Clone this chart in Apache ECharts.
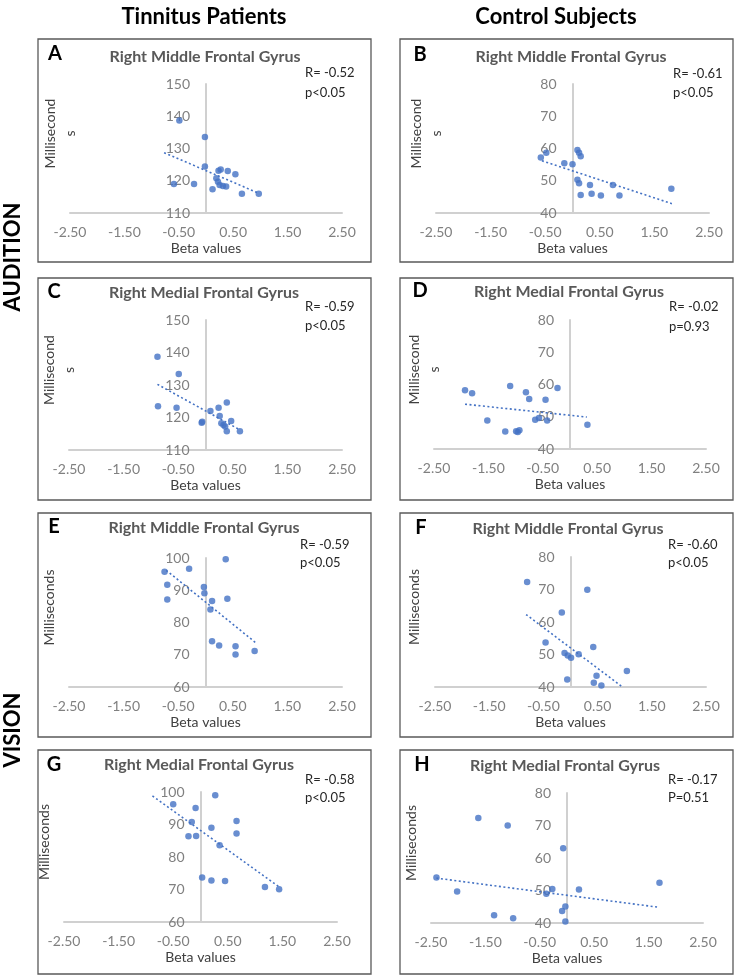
<!DOCTYPE html>
<html>
<head>
<meta charset="utf-8">
<script src="https://cdn.jsdelivr.net/npm/echarts@6/dist/echarts.min.js"></script>
<style>
html,body{margin:0;padding:0;background:#fff;}
#chart{width:738px;height:978px;}
</style>
</head>
<body>
<div id="chart"></div>
<script>
// ---------- data ----------
const columnHeaders = ['Tinnitus Patients', 'Control Subjects'];
const rowHeaders = ['AUDITION', 'VISION'];
const panelLetters = ['A', 'B', 'C', 'D', 'E', 'F', 'G', 'H'];
const regionTitles = ['Right Middle Frontal Gyrus', 'Right Middle Frontal Gyrus',
  'Right Medial Frontal Gyrus', 'Right Medial Frontal Gyrus',
  'Right Middle Frontal Gyrus', 'Right Middle Frontal Gyrus',
  'Right Medial Frontal Gyrus', 'Right Medial Frontal Gyrus'];
const rTexts = ['R= -0.52', 'R= -0.61', 'R= -0.59', 'R= -0.02', 'R= -0.59', 'R= -0.60', 'R= -0.58', 'R= -0.17'];
const pTexts = ['p<0.05', 'p<0.05', 'p<0.05', 'p=0.93', 'p<0.05', 'p<0.05', 'p<0.05', 'P=0.51'];
const xAxisName = 'Beta values';
const yAxisNames = ['Millisecond\ns', 'Millisecond\ns', 'Millisecond\ns', 'Millisecond\ns',
  'Milliseconds', 'Milliseconds', 'Milliseconds', 'Milliseconds'];
const xTickLabels = ['-2.50', '-1.50', '-0.50', '0.50', '1.50', '2.50'];
const yMins = [110, 40, 110, 40, 60, 40, 60, 40];
const yMaxs = [150, 80, 150, 80, 100, 80, 100, 80];

// Panel A
const betaA = [-0.49, -0.02, -0.02, -0.59, -0.22, 0.23, 0.27, 0.40, 0.54, 0.19, 0.22, 0.25, 0.31, 0.37, 0.12, 0.66, 0.97];
const msA = [138.7, 133.6, 124.4, 119.0, 119.0, 123.1, 123.5, 123.0, 122.0, 120.8, 119.7, 118.7, 118.4, 118.2, 117.4, 116.0, 116.0];
const trendBetaA = [-0.77, 0.96];
const trendMsA = [128.7, 116.2];
// Panel B
const betaB = [-0.58, -0.48, -0.15, 0.00, 0.09, 0.12, 0.15, 0.09, 0.12, 0.32, 0.74, 0.15, 0.35, 0.52, 0.86, 1.81];
const msB = [57.2, 58.7, 55.4, 55.1, 59.5, 58.7, 57.6, 50.3, 49.2, 48.7, 48.7, 45.6, 46.0, 45.4, 45.4, 47.5];
const trendBetaB = [-0.56, 1.82];
const trendMsB = [56.2, 42.9];
// Panel C
const betaC = [-0.88, -0.49, -0.87, -0.53, 0.09, 0.24, 0.39, 0.26, -0.07, -0.06, 0.47, 0.29, 0.33, 0.36, 0.39, 0.63];
const msC = [138.7, 133.4, 123.5, 123.0, 122.0, 123.0, 124.6, 120.5, 118.4, 118.7, 118.9, 118.2, 117.7, 117.2, 115.8, 115.8];
const trendBetaC = [-0.88, 0.63];
const trendMsC = [130.2, 116.2];
// Panel D
const betaD = [-1.93, -1.80, -1.10, -0.81, -0.75, -0.45, -0.23, -1.52, -1.19, -0.99, -0.96, -0.93, -0.64, -0.57, -0.42, 0.32];
const msD = [58.2, 57.3, 59.5, 57.6, 55.5, 55.3, 58.9, 48.8, 45.4, 45.5, 45.3, 45.8, 49.1, 49.6, 48.8, 47.5];
const trendBetaD = [-1.93, 0.31];
const trendMsD = [53.9, 49.9];
// Panel E
const betaE = [-0.75, -0.30, 0.37, -0.70, -0.70, -0.03, -0.02, 0.12, 0.40, 0.09, 0.12, 0.25, 0.55, 0.55, 0.90];
const msE = [95.7, 96.7, 99.6, 91.7, 87.1, 91.0, 89.1, 86.7, 87.4, 84.0, 74.2, 72.9, 72.6, 70.1, 71.2];
const trendBetaE = [-0.72, 0.93];
const trendMsE = [96.2, 73.6];
// Panel F
const betaF = [-0.80, 0.31, -0.16, -0.46, 0.42, -0.11, -0.05, 0.01, 0.15, -0.06, 0.48, 0.43, 0.57, 1.04];
const msF = [72.3, 69.9, 62.9, 53.7, 52.3, 50.5, 49.7, 49.0, 50.1, 42.3, 43.5, 41.3, 40.5, 44.9];
const trendBetaF = [-0.82, 0.96];
const trendMsF = [62.3, 40.0];
// Panel G
const betaG = [-0.50, -0.09, 0.27, -0.16, 0.20, 0.66, 0.66, -0.22, -0.08, 0.35, 0.03, 0.20, 0.45, 1.18, 1.44];
const msG = [96.2, 95.1, 99.0, 90.8, 89.0, 91.1, 87.2, 86.4, 86.5, 83.6, 73.7, 72.8, 72.6, 70.8, 70.1];
const trendBetaG = [-0.88, 1.44];
const trendMsG = [98.8, 70.8];
// Panel H
const betaH = [-1.63, -1.09, -0.07, -2.40, 1.70, -2.02, -0.27, -0.38, 0.22, -1.34, -0.99, -0.09, -0.03, -0.03];
const msH = [72.3, 70.0, 63.0, 54.0, 52.4, 49.7, 50.5, 49.0, 50.3, 42.4, 41.5, 43.7, 45.1, 40.5];
const trendBetaH = [-2.40, 1.70];
const trendMsH = [53.8, 44.8];

// ---------- layout (positions / styles) ----------
const FONT = 'Lato, "Open Sans", sans-serif';
const BLUE = '#4472c4';
const grids = [
  {left: 70, top: 84, width: 272, height: 129},
  {left: 436, top: 84, width: 273, height: 129},
  {left: 69, top: 320, width: 273, height: 130},
  {left: 434, top: 320, width: 272, height: 129},
  {left: 69, top: 558, width: 273, height: 129},
  {left: 435, top: 557, width: 271, height: 130},
  {left: 64, top: 792, width: 273, height: 130},
  {left: 431, top: 793, width: 272, height: 130}
];
const boxes = [
  [38, 39, 333, 223], [400, 39, 333, 223],
  [38, 278, 333, 222], [400, 278, 333, 222],
  [38, 513, 333, 224], [400, 513, 333, 224],
  [38, 750, 333, 224], [400, 750, 333, 224]
];
const letterPos = [[55, 54], [420, 55], [54, 292], [420, 291], [54, 527], [421, 528], [54, 765], [422, 765]];
const titlePos = [[205, 57], [571, 57], [204, 293], [569, 292], [204, 528], [568, 529], [199, 765], [565, 766]];
const statPos = [[305, 73, 93], [673, 74, 93], [305, 307, 326], [669, 307, 327], [300, 545, 563], [668, 545, 563], [305, 780, 798], [668, 780, 798]];

const panels = [
  [betaA, msA, trendBetaA, trendMsA], [betaB, msB, trendBetaB, trendMsB],
  [betaC, msC, trendBetaC, trendMsC], [betaD, msD, trendBetaD, trendMsD],
  [betaE, msE, trendBetaE, trendMsE], [betaF, msF, trendBetaF, trendMsF],
  [betaG, msG, trendBetaG, trendMsG], [betaH, msH, trendBetaH, trendMsH]
];

const zip = (xs, ys) => xs.map((x, i) => [x, ys[i]]);

const option = {
  animation: false,
  backgroundColor: '#ffffff',
  grid: grids.map(g => Object.assign({containLabel: false, outerBoundsMode: 'none'}, g)),
  xAxis: grids.map((g, i) => ({
    type: 'value', gridIndex: i, min: -2.5, max: 2.5, interval: 0.5,
    axisLine: {show: true, onZero: false, lineStyle: {color: '#d0d0d0', width: 2}},
    axisTick: {show: false},
    splitLine: {show: false},
    axisLabel: {
      margin: 12, color: '#808080', fontSize: 14, fontFamily: FONT,
      formatter: v => { const s = v.toFixed(2); return xTickLabels.includes(s) ? s : ''; }
    },
    name: xAxisName, nameLocation: 'middle', nameGap: 28,
    nameTextStyle: {color: '#404040', fontSize: 14, fontFamily: FONT}
  })),
  yAxis: grids.map((g, i) => ({
    type: 'value', gridIndex: i, min: yMins[i], max: yMaxs[i], interval: 10,
    position: 'left',
    offset: -g.width / 2,   // axis crosses the x axis at beta = 0
    axisLine: {show: true, onZero: false, lineStyle: {color: '#d0d0d0', width: 2}},
    axisTick: {show: false},
    splitLine: {show: false},
    axisLabel: {margin: 16, color: '#808080', fontSize: 14, fontFamily: FONT},
    name: yAxisNames[i], nameLocation: 'middle',
    nameMoveOverlap: false,
    nameGap: i < 4 ? 126 : 146,
    nameTextStyle: {color: '#404040', fontSize: 14, fontFamily: FONT, lineHeight: 20, padding: [0, 0, 0, 30]}
  })),
  series: [],
  graphic: []
};

panels.forEach((p, i) => {
  option.series.push({
    type: 'line', xAxisIndex: i, yAxisIndex: i, data: zip(p[2], p[3]),
    showSymbol: false, symbol: 'none', silent: true, z: 2,
    lineStyle: {color: BLUE, width: 1.6, type: [2, 2.5]}
  });
  option.series.push({
    type: 'scatter', xAxisIndex: i, yAxisIndex: i, data: zip(p[0], p[1]),
    symbolSize: 6.5, z: 3,
    itemStyle: {color: BLUE}
  });
});

const G = option.graphic;
boxes.forEach(b => {
  G.push({type: 'rect', shape: {x: b[0], y: b[1], width: b[2], height: b[3]},
    style: {fill: null, stroke: '#595959', lineWidth: 1.3}, z: 1});
});
panelLetters.forEach((t, i) => {
  G.push({type: 'text', x: letterPos[i][0], y: letterPos[i][1],
    style: {text: t, fill: '#000', font: 'bold 20px ' + FONT, align: 'center', verticalAlign: 'middle'}});
  G.push({type: 'text', x: titlePos[i][0], y: titlePos[i][1],
    style: {text: regionTitles[i], fill: '#595959', font: 'bold 16px ' + FONT, align: 'center', verticalAlign: 'middle'}});
  G.push({type: 'text', x: statPos[i][0], y: statPos[i][1],
    style: {text: rTexts[i], fill: '#262626', font: '13px ' + FONT, align: 'left', verticalAlign: 'middle'}});
  G.push({type: 'text', x: statPos[i][0], y: statPos[i][2],
    style: {text: pTexts[i], fill: '#262626', font: '13px ' + FONT, align: 'left', verticalAlign: 'middle'}});
});
G.push({type: 'text', x: 204, y: 17,
  style: {text: columnHeaders[0], fill: '#000', font: 'bold 22px ' + FONT, align: 'center', verticalAlign: 'middle'}});
G.push({type: 'text', x: 556, y: 17,
  style: {text: columnHeaders[1], fill: '#000', font: 'bold 22px ' + FONT, align: 'center', verticalAlign: 'middle'}});
G.push({type: 'text', x: 13, y: 257, rotation: Math.PI / 2,
  style: {text: rowHeaders[0], fill: '#000', font: 'bold 22px ' + FONT, align: 'center', verticalAlign: 'middle'}});
G.push({type: 'text', x: 13, y: 730, rotation: Math.PI / 2,
  style: {text: rowHeaders[1], fill: '#000', font: 'bold 22px ' + FONT, align: 'center', verticalAlign: 'middle'}});

const chart = echarts.init(document.getElementById('chart'), null, {renderer: 'canvas'});
chart.setOption(option);
</script>
</body>
</html>
